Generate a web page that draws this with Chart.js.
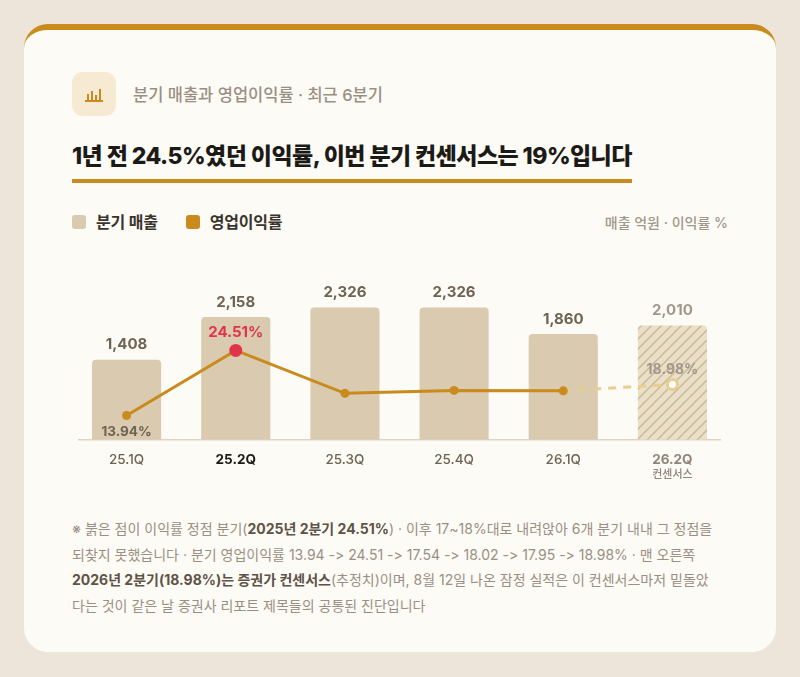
<!DOCTYPE html>
<html lang="ko">
<head>
<meta charset="utf-8">
<title>분기 매출과 영업이익률</title>
<script src="https://cdn.jsdelivr.net/npm/chart.js@4.4.1/dist/chart.umd.min.js"></script>
<style>
  html, body { margin: 0; padding: 0; }
  body {
    width: 800px; height: 677px; background: #EDE5D9; position: relative; overflow: hidden;
    font-family: "Inter", "Noto Sans CJK KR", sans-serif;
  }
  .card {
    position: absolute; left: 24px; top: 24px; width: 752px; height: 628px;
    box-sizing: border-box; background: #FDFBF6; border-radius: 24px;
    border-top: 6px solid #C98A1E;
  }
  .icon {
    position: absolute; left: 48px; top: 42px; width: 44px; height: 44px;
    border-radius: 11px; background: #F6EAD2;
  }
  .icon svg { position: absolute; left: 13px; top: 14px; }
  .kicker {
    position: absolute; left: 109px; top: 54px; line-height: 22px;
    font-size: 16.5px; color: #9A8F83; font-weight: 500; letter-spacing: 0;
  }
  .title {
    position: absolute; left: 48px; top: 111px; line-height: 30px;
    font-size: 23px; font-weight: 800; color: #1C1A17; letter-spacing: -0.55px;
    padding-bottom: 8px; border-bottom: 4px solid #C98A1E; white-space: nowrap;
  }
  .legend {
    position: absolute; left: 48px; top: 182px; line-height: 20px; font-size: 16px;
    font-weight: 700; color: #3A342D; display: flex; align-items: center; letter-spacing: -0.2px;
  }
  .legend i { display: inline-block; width: 14px; height: 14px; border-radius: 3px; margin-right: 10px; }
  .legend span { display: flex; align-items: center; margin-right: 28px; }
  .unit {
    position: absolute; right: 48px; top: 183px; line-height: 20px; font-size: 14px;
    color: #A1978B; font-weight: 500;
  }
  .chart-box { position: absolute; left: 48px; top: 195px; width: 655px; height: 275px; }
  .note {
    position: absolute; left: 48px; top: 486px; font-size: 14px; line-height: 25.6px;
    color: #9A8F83; white-space: nowrap; letter-spacing: 0;
  }
  .note b { color: #5E5346; font-weight: 700; }
</style>
</head>
<body>
<div class="card">
  <div class="icon">
    <svg width="18" height="16" viewBox="0 0 18 16">
      <g fill="#C98A1E">
        <rect x="2" y="8" width="2" height="7"/>
        <rect x="6" y="5" width="2" height="10"/>
        <rect x="10" y="9" width="2" height="6"/>
        <rect x="14" y="3" width="2" height="12"/>
        <rect x="0" y="14" width="18" height="2"/>
      </g>
    </svg>
  </div>
  <div class="kicker">분기 매출과 영업이익률 · 최근 6분기</div>
  <div class="title">1년 전 24.5%였던 이익률, 이번 분기 컨센서스는 19%입니다</div>
  <div class="legend">
    <span><i style="background:#D9CAB0"></i>분기 매출</span>
    <span><i style="background:#C98A1E"></i>영업이익률</span>
  </div>
  <div class="unit">매출 억원 · 이익률 %</div>
  <div class="chart-box"><canvas id="marginChart"></canvas></div>
  <div class="note">
    ※ 붉은 점이 이익률 정점 분기(<b>2025년 2분기 24.51%</b>) · 이후 17~18%대로 내려앉아 6개 분기 내내 그 정점을<br>
    되찾지 못했습니다 · 분기 영업이익률 13.94 -&gt; 24.51 -&gt; 17.54 -&gt; 18.02 -&gt; 17.95 -&gt; 18.98% · 맨 오른쪽<br>
    <b>2026년 2분기(18.98%)는 증권가 컨센서스</b>(추정치)이며, 8월 12일 나온 잠정 실적은 이 컨센서스마저 밑돌았<br>
    다는 것이 같은 날 증권사 리포트 제목들의 공통된 진단입니다
  </div>
</div>

<script>
(function () {
  'use strict';

  // ============ 데이터 ============
  var quarters = ['25.1Q', '25.2Q', '25.3Q', '25.4Q', '26.1Q', '26.2Q'];
  var revenue = [1408, 2158, 2326, 2326, 1860, 2010];       // 억원
  var margin = [13.94, 24.51, 17.54, 18.02, 17.95, 18.98];  // %
  var marginShown = [true, true, false, false, false, true]; // 라벨 표시할 점
  var PEAK = 1;      // 정점 분기
  var CONSENSUS = 5; // 컨센서스(추정치) 분기

  var GOLD = '#C98A1E';
  var BAR = '#D9CAB0';
  var RED = '#E0344B';
  var PALE = '#E6CF8E';
  var FONT = 'Inter, "Noto Sans CJK KR", sans-serif';

  // 컨센서스 막대용 빗금 패턴
  function hatch() {
    var c = document.createElement('canvas');
    c.width = 10; c.height = 10;
    var g = c.getContext('2d');
    g.fillStyle = '#EADFC9';
    g.fillRect(0, 0, 10, 10);
    g.strokeStyle = '#CBB890';
    g.lineWidth = 1.4;
    g.beginPath();
    g.moveTo(-1, 11); g.lineTo(11, -1);
    g.moveTo(-1, 1); g.lineTo(1, -1);
    g.moveTo(9, 11); g.lineTo(11, 9);
    g.stroke();
    return g.createPattern(c, 'repeat');
  }

  var barColors = revenue.map(function (v, i) { return i === CONSENSUS ? hatch() : BAR; });

  // 기준선 (막대 양끝보다 조금 넓게)
  var baseline = {
    id: 'baseline',
    beforeDatasetsDraw: function (chart) {
      var bars = chart.getDatasetMeta(1).data;
      var first = bars[0], last = bars[bars.length - 1];
      var y = chart.scales.y.getPixelForValue(0);
      var ctx = chart.ctx;
      ctx.save();
      ctx.strokeStyle = '#DDD4C6';
      ctx.lineWidth = 1.5;
      ctx.beginPath();
      ctx.moveTo(first.x - first.width / 2 - 14, y);
      ctx.lineTo(last.x + last.width / 2 + 14, y);
      ctx.stroke();
      ctx.restore();
    }
  };

  // 막대/점 위 값 라벨
  var valueLabels = {
    id: 'valueLabels',
    afterDatasetsDraw: function (chart) {
      var ctx = chart.ctx;
      ctx.save();
      ctx.textAlign = 'center';
      ctx.textBaseline = 'middle';

      chart.getDatasetMeta(1).data.forEach(function (bar, i) {
        ctx.font = '700 15px ' + FONT;
        ctx.fillStyle = i === CONSENSUS ? '#A1978B' : '#6E6253';
        ctx.fillText(revenue[i].toLocaleString('en-US'), bar.x, bar.y - 15);
      });

      chart.getDatasetMeta(0).data.forEach(function (pt, i) {
        if (!marginShown[i]) return;
        var txt = margin[i].toFixed(2) + '%';
        if (i === PEAK) {
          ctx.font = '700 15px ' + FONT;
          ctx.fillStyle = RED;
          ctx.fillText(txt, pt.x, pt.y - 18);
        } else if (i === CONSENSUS) {
          ctx.font = '700 14px ' + FONT;
          ctx.fillStyle = '#A1978B';
          ctx.fillText(txt, pt.x, pt.y - 15);
        } else {
          ctx.font = '700 13.5px ' + FONT;
          ctx.fillStyle = '#6E6253';
          ctx.fillText(txt, pt.x, pt.y + 16);
        }
      });

      // 컨센서스 보조 라벨
      var x = chart.scales.x;
      ctx.font = '500 11px "Noto Sans CJK KR", sans-serif';
      ctx.fillStyle = '#8F857A';
      ctx.fillText('컨센서스', x.getPixelForValue(CONSENSUS), x.top + 34);
      ctx.restore();
    }
  };

  new Chart(document.getElementById('marginChart'), {
    data: {
      labels: quarters,
      datasets: [{
        type: 'line',
        label: '영업이익률',
        data: margin,
        yAxisID: 'y1',
        order: 0,
        borderColor: GOLD,
        borderWidth: 3,
        tension: 0,
        pointRadius: [4.5, 6.5, 4.5, 4.5, 4.5, 5],
        pointBackgroundColor: margin.map(function (v, i) {
          return i === PEAK ? RED : (i === CONSENSUS ? '#FFFFFF' : GOLD);
        }),
        pointBorderColor: margin.map(function (v, i) { return i === CONSENSUS ? PALE : 'transparent'; }),
        pointBorderWidth: margin.map(function (v, i) { return i === CONSENSUS ? 3 : 0; }),
        segment: {
          borderColor: function (c) { return c.p1DataIndex === CONSENSUS ? PALE : undefined; },
          borderDash: function (c) { return c.p1DataIndex === CONSENSUS ? [8, 7] : undefined; }
        }
      }, {
        type: 'bar',
        label: '분기 매출',
        data: revenue,
        yAxisID: 'y',
        order: 1,
        backgroundColor: barColors,
        borderRadius: 4,
        borderSkipped: 'bottom',
        barPercentage: 0.633,
        categoryPercentage: 1
      }]
    },
    options: {
      responsive: true,
      maintainAspectRatio: false,
      animation: false,
      layout: { autoPadding: false, padding: { top: 30, left: 0, right: 0, bottom: 28 } },
      plugins: { legend: { display: false }, tooltip: { enabled: false } },
      scales: {
        x: {
          offset: true,
          grid: { display: false },
          border: { display: false },
          ticks: {
            padding: 4,
            color: function (c) {
              if (c.index === PEAK) return '#1C1A17';
              if (c.index === CONSENSUS) return '#8F857A';
              return '#6E6253';
            },
            font: function (c) {
              var bold = c.index === PEAK || c.index === CONSENSUS;
              return { family: 'Inter', size: 13.5, weight: bold ? '700' : '500' };
            }
          }
        },
        y: { display: false, min: 0, max: 3250 },
        y1: { display: false, min: 10, max: 40 }
      }
    },
    plugins: [baseline, valueLabels]
  });
})();
</script>
</body>
</html>
